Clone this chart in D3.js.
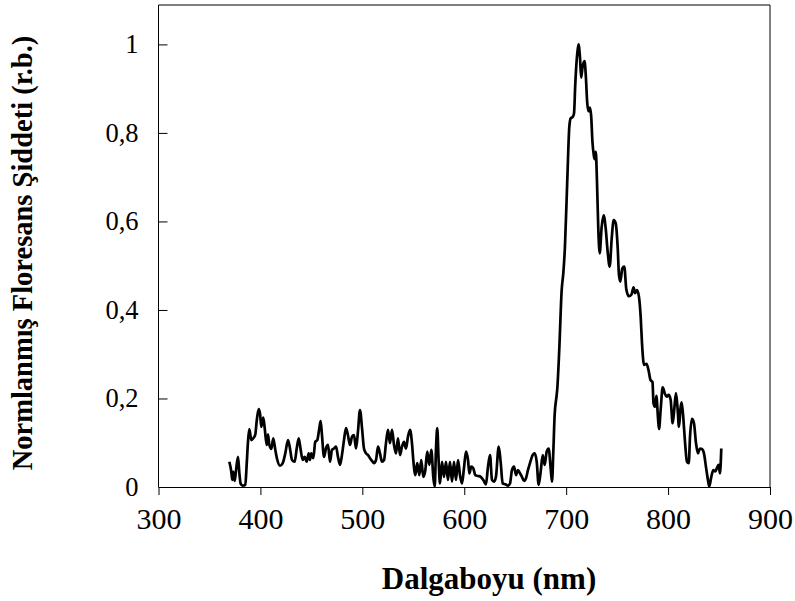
<!DOCTYPE html>
<html>
<head>
<meta charset="utf-8">
<script src="https://cdn.jsdelivr.net/npm/d3@7/dist/d3.min.js"></script>
<style>
  html, body { margin: 0; padding: 0; background: #fff; }
  svg { display: block; }
  .tick text { font-family: "Liberation Serif", "Times New Roman", serif; fill: #000; }
  .x-axis .tick text { font-size: 30px; }
  .y-axis .tick text { font-size: 26.5px; }
  .title { font-family: "Liberation Serif", "Times New Roman", serif; font-weight: bold; fill: #000; }
</style>
</head>
<body>
<svg id="chart" width="795" height="601"></svg>
<script>
// Fluorescence emission spectrum (normalised intensity vs wavelength)
const wavelength = [
  369.5, 371.4, 372.4, 373.4, 374.8, 376.0, 378.0, 379.3, 380.7, 382.6,
  385.2, 386.5, 387.8, 389.1, 391.1, 393.0, 395.0, 396.3, 398.3, 399.6,
  400.9, 402.8, 404.2, 406.2, 407.4, 408.7, 410.7, 412.6, 414.6, 416.6,
  419.2, 421.9, 424.4, 427.1, 429.0, 431.0, 433.6, 435.6, 437.6, 439.5,
  441.5, 443.4, 445.4, 447.4, 448.6, 449.9, 451.9, 453.8, 455.8, 457.8,
  459.1, 460.4, 462.4, 464.3, 466.3, 468.3, 470.2, 472.2, 474.2, 476.1,
  478.1, 480.0, 482.0, 484.0, 485.9, 487.9, 489.9, 491.8, 493.8, 495.7,
  497.7, 499.7, 501.6, 503.6, 505.6, 507.5, 509.5, 511.4, 513.4, 515.4,
  517.3, 519.3, 521.3, 523.2, 525.2, 527.1, 529.1, 531.1, 533.0, 535.0,
  537.0, 538.9, 540.9, 542.8, 544.8, 546.8, 548.7, 550.0, 552.0, 553.9,
  555.9, 557.8, 559.8, 561.8, 563.7, 565.7, 567.7, 569.6, 571.0, 572.3,
  573.5, 574.9, 576.2, 578.2, 580.1, 582.1, 584.0, 586.0, 588.0, 589.9,
  591.9, 593.9, 595.8, 597.8, 599.7, 601.7, 603.7, 605.0, 606.9, 608.9,
  610.8, 613.5, 616.1, 618.7, 621.3, 623.3, 625.3, 627.2, 629.2, 631.1,
  633.8, 635.7, 637.7, 640.3, 642.9, 644.9, 646.8, 648.8, 650.8, 652.7,
  654.7, 656.6, 658.6, 660.6, 662.5, 664.5, 667.1, 669.1, 671.1, 673.0,
  675.0, 677.0, 678.9, 680.9, 682.8, 684.8, 686.1, 687.4, 688.7, 690.7,
  691.3, 693.2, 695.6, 697.2, 698.8, 701.1, 703.1, 704.4, 706.4, 707.7,
  708.9, 710.9, 712.1, 713.6, 714.7, 716.0, 718.0, 719.4, 720.6, 721.9,
  723.2, 724.5, 725.8, 727.1, 727.8, 729.1, 730.2, 731.5, 732.9, 734.8,
  736.8, 738.8, 740.7, 742.7, 744.7, 746.6, 748.6, 750.6, 751.8, 753.1,
  755.1, 757.0, 759.0, 761.6, 764.1, 766.1, 767.5, 769.5, 771.4, 773.1,
  774.4, 776.4, 778.8, 780.8, 782.7, 784.7, 785.7, 787.1, 788.5, 790.1,
  791.1, 792.7, 794.7, 796.7, 798.6, 800.6, 802.5, 804.5, 806.0, 807.7,
  809.2, 810.7, 812.2, 813.2, 814.6, 816.6, 818.5, 820.3, 821.5, 823.4,
  825.4, 827.4, 829.3, 831.3, 833.2, 835.2, 837.2, 839.1, 840.4, 842.4,
  844.4, 846.3, 848.3, 849.6, 850.9, 852.2
];

const intensity = [
  0.057, 0.035, 0.016, 0.034, 0.014, 0.036, 0.068, 0.032, 0.007, 0.003,
  0.005, 0.050, 0.102, 0.131, 0.106, 0.110, 0.119, 0.148, 0.176, 0.166,
  0.136, 0.157, 0.133, 0.095, 0.119, 0.096, 0.086, 0.110, 0.084, 0.061,
  0.048, 0.054, 0.076, 0.106, 0.087, 0.061, 0.057, 0.087, 0.110, 0.084,
  0.061, 0.068, 0.057, 0.076, 0.061, 0.076, 0.065, 0.102, 0.106, 0.133,
  0.149, 0.117, 0.068, 0.087, 0.095, 0.057, 0.084, 0.087, 0.091, 0.068,
  0.050, 0.072, 0.106, 0.133, 0.117, 0.095, 0.114, 0.117, 0.087, 0.125,
  0.174, 0.133, 0.087, 0.076, 0.072, 0.065, 0.059, 0.054, 0.061, 0.091,
  0.076, 0.057, 0.061, 0.099, 0.129, 0.099, 0.129, 0.095, 0.076, 0.110,
  0.072, 0.091, 0.102, 0.087, 0.114, 0.129, 0.099, 0.061, 0.027, 0.054,
  0.027, 0.061, 0.023, 0.038, 0.080, 0.050, 0.084, 0.023, 0.001, 0.087,
  0.133, 0.057, 0.008, 0.057, 0.023, 0.057, 0.016, 0.057, 0.012, 0.057,
  0.016, 0.061, 0.027, 0.008, 0.042, 0.080, 0.061, 0.031, 0.046, 0.042,
  0.027, 0.025, 0.023, 0.016, 0.006, 0.046, 0.072, 0.016, 0.012, 0.023,
  0.091, 0.057, 0.008, 0.006, 0.003, 0.008, 0.038, 0.046, 0.027, 0.038,
  0.031, 0.023, 0.014, 0.020, 0.038, 0.054, 0.072, 0.076, 0.057, 0.005,
  0.035, 0.072, 0.050, 0.080, 0.087, 0.042, 0.012, 0.080, 0.163, 0.208,
  0.223, 0.309, 0.445, 0.483, 0.543, 0.694, 0.814, 0.833, 0.836, 0.844,
  0.908, 0.980, 1.000, 0.969, 0.925, 0.948, 0.962, 0.924, 0.870, 0.849,
  0.857, 0.839, 0.779, 0.750, 0.741, 0.757, 0.693, 0.585, 0.528, 0.587,
  0.614, 0.584, 0.532, 0.498, 0.562, 0.603, 0.596, 0.539, 0.479, 0.464,
  0.494, 0.498, 0.447, 0.431, 0.435, 0.451, 0.438, 0.445, 0.430, 0.385,
  0.325, 0.276, 0.278, 0.264, 0.242, 0.237, 0.189, 0.181, 0.206, 0.156,
  0.131, 0.174, 0.225, 0.212, 0.204, 0.208, 0.197, 0.144, 0.174, 0.212,
  0.181, 0.136, 0.178, 0.191, 0.166, 0.102, 0.057, 0.054, 0.113, 0.154,
  0.144, 0.099, 0.076, 0.087, 0.086, 0.076, 0.045, 0.016, 0.001, 0.023,
  0.038, 0.035, 0.045, 0.050, 0.031, 0.087
];

const xTicks = [300, 400, 500, 600, 700, 800, 900];
const yTicks = [0, 0.2, 0.4, 0.6, 0.8, 1];
const yTickLabels = ["0", "0,2", "0,4", "0,6", "0,8", "1"];
const xTitle = "Dalgaboyu (nm)";
const yTitle = "Normlanmış Floresans Şiddeti (r.b.)";

const svg = d3.select("#chart");
const margin = { left: 158.5, right: 25, top: 5, bottom: 114 };
const W = 795, H = 601;
const plotW = W - margin.left - margin.right;
const plotH = H - margin.top - margin.bottom;

const x = d3.scaleLinear().domain([300, 900]).range([margin.left, margin.left + plotW]);
const y = d3.scaleLinear().domain([0, 1.089]).range([margin.top + plotH, margin.top]);

// plot frame: top and right edges
svg.append("path")
  .attr("d", `M${x(300)},${y(1.089)}H${x(900)}V${y(0)}`)
  .attr("fill", "none").attr("stroke", "#000").attr("stroke-width", 1);

// x axis: ticks pointing outward
const xAxis = d3.axisBottom(x).tickValues(xTicks).tickFormat(d3.format("d"))
  .tickSizeInner(8).tickSizeOuter(0).tickPadding(13);
const gx = svg.append("g").attr("class", "x-axis")
  .attr("transform", `translate(0,${y(0)})`).call(xAxis);
gx.select(".domain").attr("stroke", "#000");
gx.selectAll(".tick line").attr("stroke", "#000");

// y axis: ticks pointing into the plot
const yAxis = d3.axisLeft(y).tickValues(yTicks)
  .tickFormat((d, i) => yTickLabels[i])
  .tickSizeInner(-9).tickSizeOuter(0).tickPadding(20);
const gy = svg.append("g").attr("class", "y-axis")
  .attr("transform", `translate(${x(300)},0)`).call(yAxis);
gy.select(".domain").attr("d", `M0,${y(1.089)}V${y(0)}`).attr("stroke", "#000");
gy.selectAll(".tick line").attr("stroke", "#000");

// spectrum line
const pts = wavelength.map((w, i) => [w, intensity[i]]);
const line = d3.line().x(d => x(d[0])).y(d => y(d[1])).curve(d3.curveMonotoneX);
svg.append("path")
  .datum(pts)
  .attr("d", line)
  .attr("fill", "none")
  .attr("stroke", "#000")
  .attr("stroke-width", 2.7)
  .attr("stroke-linejoin", "round");

// axis titles
svg.append("text").attr("class", "title")
  .attr("x", 489).attr("y", 589)
  .style("font-size", "31px")
  .attr("text-anchor", "middle").text(xTitle);

svg.append("text").attr("class", "title")
  .style("font-size", "28.5px")
  .attr("transform", `translate(32,253) rotate(-90)`)
  .attr("text-anchor", "middle").text(yTitle);
</script>
</body>
</html>
